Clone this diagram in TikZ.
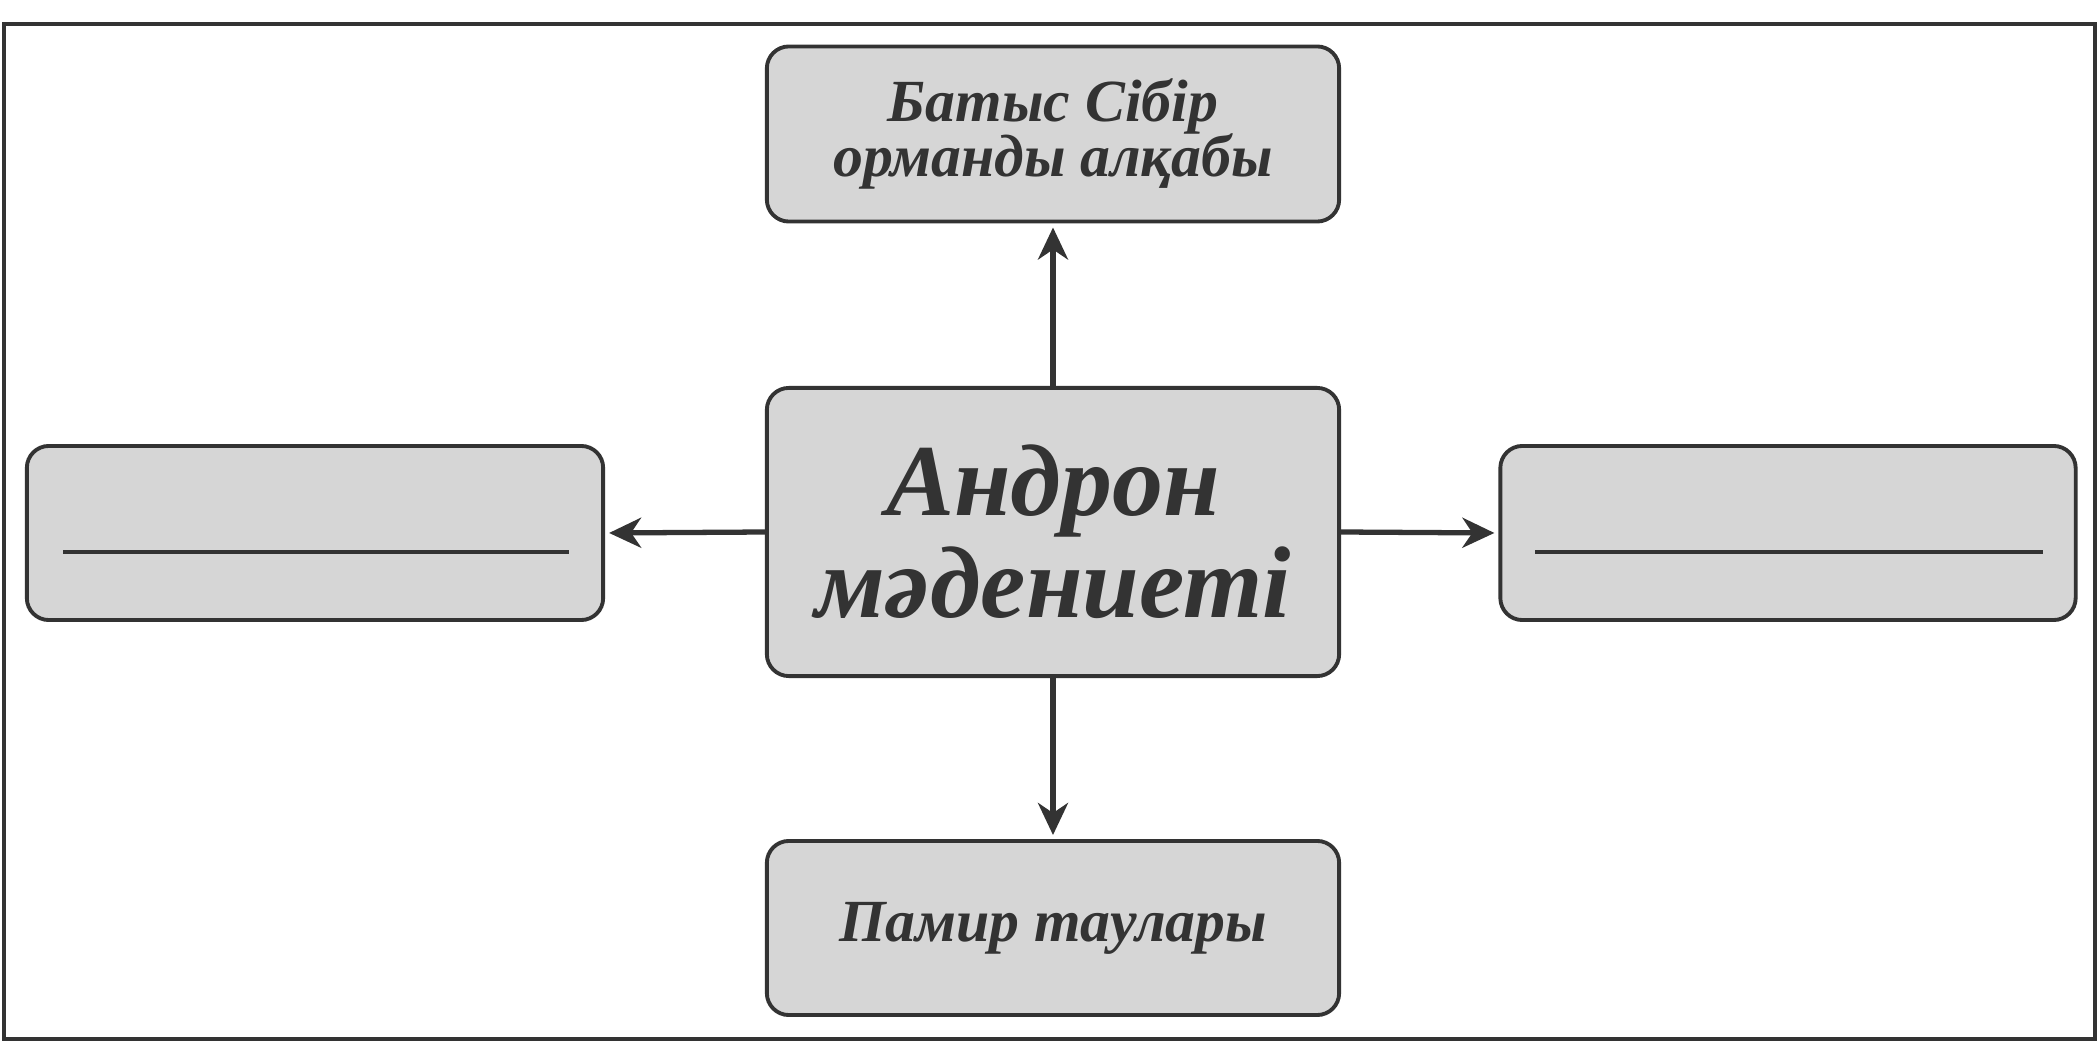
\documentclass[tikz,border=0pt]{standalone}
\usepackage{fontspec}
\setmainfont{Liberation Serif}
\usetikzlibrary{arrows.meta}
\definecolor{ink}{HTML}{333333}
\definecolor{boxfill}{HTML}{D6D6D6}
\newcommand\tightlines{\setlength{\lineskiplimit}{-30pt}\setlength{\lineskip}{0pt}}
\tikzset{
  card/.style={draw=ink, fill=boxfill, line width=1.1pt, rounded corners=0.22cm,
    inner sep=0pt, align=center, text=ink, font=\bfseries\itshape},
  arr/.style={draw=ink, line width=1.5pt, -{Stealth[length=0.32cm,width=0.3cm,inset=0.1cm]}, shorten >=0.04cm},
  blank/.style={draw=ink, line width=0.95pt},
  frame/.style={draw=ink, line width=0.9pt}
}
\begin{document}
\begin{tikzpicture}[x=0.01cm,y=-0.01cm]
\useasboundingbox (0,0) rectangle (2099,1061);
\draw[frame] (4,24) rectangle (2095,1039);
\node[card, minimum width=5.72cm, minimum height=2.88cm,
  font=\bfseries\itshape\fontsize{29}{29}\selectfont\tightlines] (C) at (1053,532) {Андрон\\мәдениеті};
\node[card, minimum width=5.72cm, minimum height=1.75cm,
  font=\bfseries\itshape\fontsize{17}{15.5}\selectfont\tightlines] (T) at (1053,134) {Батыс Сібір\\орманды алқабы};
\node[card, minimum width=5.72cm, minimum height=1.74cm,
  font=\bfseries\itshape\fontsize{17}{14}\selectfont] (B) at (1053,928) {Памир таулары};
\node[card, minimum width=5.76cm, minimum height=1.74cm] (L) at (315,533) {};
\node[card, minimum width=5.75cm, minimum height=1.74cm] (R) at (1788,533) {};
\draw[blank] (63,552) -- (569,552);
\draw[blank] (1535,552) -- (2043,552);
\draw[arr] (C.north) -- (T.south);
\draw[arr] (C.south) -- (B.north);
\draw[arr] (C.west) -- (L.east);
\draw[arr] (C.east) -- (R.west);
\end{tikzpicture}
\end{document}
